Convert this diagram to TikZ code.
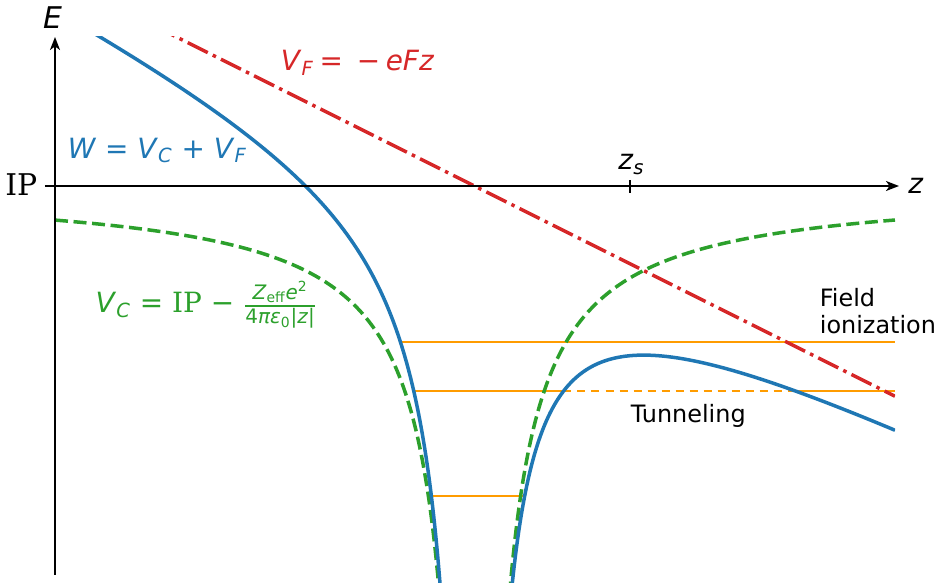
\documentclass[tikz,border=0pt]{standalone}
\usepackage{amsmath}
\usepackage{fontspec}
\setmainfont{DejaVu Sans}
\newfontfamily\ipfont{DejaVu Serif}
\usepackage{tikz}
\usetikzlibrary{
  arrows.meta            % Stealth tips on the axes
}
\definecolor{wblue}{HTML}{1F77B4}
\definecolor{cgreen}{HTML}{2CA02C}
\definecolor{fred}{HTML}{D62728}
\definecolor{lorange}{HTML}{FF9C00}
\newcommand{\vit}[1]{\textit{#1}}
\newcommand{\lblsize}{\fontsize{14}{17}\selectfont}
\newcommand{\fracsize}{\fontsize{10}{12}\selectfont}

\begin{document}
\begin{tikzpicture}[x=0.5bp, y=0.5bp,
    axis/.style={line width=0.9bp, -{Stealth[length=6.5bp, width=5bp, inset=1.8bp]}},
    wcurve/.style={wblue, line width=1.75bp},
    ccurve/.style={cgreen, line width=1.75bp, dash pattern=on 6.5bp off 2.8bp},
    fcurve/.style={fred, line width=1.75bp, dash pattern=on 11.2bp off 2.8bp on 1.75bp off 2.8bp},
    level/.style={lorange, line width=1bp},
    mathlbl/.style={inner sep=0pt, font=\lblsize},
    txtlbl/.style={inner sep=0pt, font=\fontsize{12}{14}\selectfont}]
            \useasboundingbox (-474.5,-401) rectangle (470.5,186);
            % levels
            \draw[level] (-73,-156) -- (420.5,-156);
            \draw[level] (-60.8,-205) -- (89,-205);
            \draw[level, dash pattern=on 4bp off 3bp] (89,-205) -- (320.6,-205);
            \draw[level] (320.6,-205) -- (420.5,-205);
            \draw[level] (-43.1,-310) -- (50.2,-310);
            % potentials
            \begin{scope}
                \clip (-419.5,-397) rectangle (420.5,149);
                \draw[fcurve] (-419.5,209.75) -- (420.5,-210.25);
                \draw[ccurve] plot[domain=-419.5:-35, samples=400] (\x,{-14300/abs(\x)});
                \draw[ccurve] plot[domain=35:420.5, samples=400] (\x,{-14300/abs(\x)});
                \draw[wcurve] plot[domain=-419.5:-33, samples=400] (\x,{-14300/abs(\x)-0.5*(\x)});
                \draw[wcurve] plot[domain=36:420.5, samples=400] (\x,{-14300/abs(\x)-0.5*(\x)});
            \end{scope}
            % axes
            \coordinate (ybot) at (-419.5,-389);
            \coordinate (ytop) at (-419.5,149);
            \coordinate (zleft) at (-429.5,0);
            \coordinate (zright) at (424.5,0);
            \coordinate (zsbot) at (155.5,-7);
            \coordinate (zstop) at (155.5,6);
            \draw[axis] (ybot) -- (ytop);
            \draw[axis] (zleft) -- (zright);
            \draw[line width=0.9bp] (zsbot) -- (zstop);
            % labels
            \node[mathlbl, font=\fontsize{15}{18}\selectfont] (lblE) at (-422,168) {\vit{E}};
            \node[mathlbl, font=\fontsize{14}{17}\selectfont] (lblz) at (441.5,0.5) {\vit{z}};
            \node[mathlbl, anchor=east, font=\fontsize{15}{18}\selectfont] (lblIP) at (-436.8,1.5) {\ipfont IP};
            \node[mathlbl, anchor=base] (lblzs) at (157,16) {\vit{z}\textsubscript{\vit{s}}};
            \node[mathlbl, fred, anchor=base] (lblVF) at (-117,115)
                {\vit{V}\textsubscript{\vit{F}}\hspace{0.2em}=\hspace{0.5em}−\hspace{0.2em}\vit{eFz}};
            \node[mathlbl, wblue, anchor=base] (lblW) at (-317,27.7)
                {\vit{W} = \vit{V}\textsubscript{\vit{C}} + \vit{V}\textsubscript{\vit{F}}};
            \node[mathlbl, cgreen, anchor=base] (lblVC) at (-268,-127)
                {\vit{V}\textsubscript{\vit{C}} = {\ipfont IP} − $\genfrac{}{}{0.9bp}{}{\hbox{\fracsize\vit{Z}\textsubscript{eff}\vit{e}\textsuperscript{2}}}{\hbox{\fracsize 4\vit{πε}\textsubscript{0}|\vit{z}|}}$};
            \node[txtlbl, anchor=base] (lblTun) at (213.8,-236.3) {Tunneling};
            \node[txtlbl, anchor=base west] (lblField) at (345,-120.7) {Field};
            \node[txtlbl, anchor=base west] (lblIon) at (345,-147.3) {ionization};
        \end{tikzpicture}
\end{document}
